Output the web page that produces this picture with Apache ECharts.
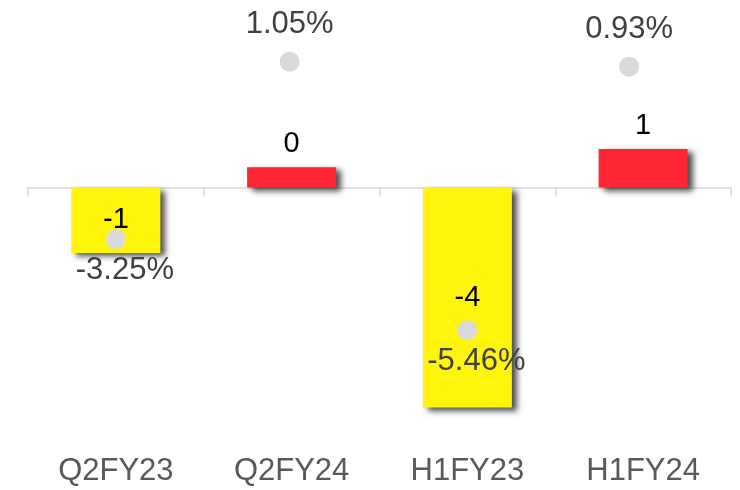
<!DOCTYPE html>
<html>
<head>
<meta charset="utf-8">
<script src="https://cdn.jsdelivr.net/npm/echarts@6/dist/echarts.min.js"></script>
<style>html,body{margin:0;padding:0;background:#fff;}#c{width:740px;height:490px;}</style>
</head>
<body>
<div id="c"></div>
<script>
var categories = ['Q2FY23', 'Q2FY24', 'H1FY23', 'H1FY24'];
var barValues = [-1.19, 0.37, -4.0, 0.70];
var pctValues = [-3.25, 1.05, -5.46, 0.93];
var barColors = ['#FFF50C', '#FF2532', '#FFF50C', '#FF2532'];

var FONT = 'Liberation Sans, Arial, sans-serif';
var dotShift = [0, -2, 0, -14];

var chart = echarts.init(document.getElementById('c'));
chart.setOption({
  animation: false,
  backgroundColor: '#ffffff',
  grid: { left: 28, right: 9, top: 22.5, bottom: 55, containLabel: false },
  xAxis: [
    {
      type: 'category', data: categories, position: 'bottom',
      axisLine: { show: false, onZero: false }, axisTick: { show: false },
      axisLabel: { color: '#595959', fontSize: 31, fontFamily: FONT, margin: 21 }
    },
    {
      type: 'category', data: categories, position: 'bottom',
      axisLine: { show: true, onZero: true, onZeroAxisIndex: 0, lineStyle: { color: '#d9d9d9', width: 1.5 } },
      axisTick: { show: true, length: 9, lineStyle: { color: '#d9d9d9', width: 1.5 } },
      axisLabel: { show: false }
    }
  ],
  yAxis: [
    { type: 'value', min: -4.5, max: 3, show: false, splitLine: { show: false } },
    { type: 'value', min: -8, max: 2, show: false, splitLine: { show: false } }
  ],
  series: [
    {
      type: 'bar', xAxisIndex: 0, yAxisIndex: 0, barWidth: 89, z: 2,
      data: barValues.map(function (v, i) {
        return {
          value: v,
          itemStyle: { color: barColors[i] },
          label: { position: v < 0 ? 'inside' : 'top', distance: 9 }
        };
      }),
      itemStyle: {
        shadowColor: 'rgba(0,0,0,0.7)', shadowBlur: 6, shadowOffsetX: 5, shadowOffsetY: 3
      },
      label: {
        show: true, color: '#000000', fontSize: 29, fontFamily: FONT,
        formatter: function (p) { return String(Math.round(p.value)); }
      }
    },
    {
      type: 'scatter', xAxisIndex: 0, yAxisIndex: 1, z: 3, symbolSize: 20,
      data: pctValues.map(function (v, i) {
        return {
          value: v,
          symbolOffset: [dotShift[i], 0],
          label: {
            position: v < 0 ? 'bottom' : 'top',
            distance: v < 0 ? 6 : 12,
            offset: [v < 0 ? 9 : 0, 0]
          }
        };
      }),
      itemStyle: { color: '#d9d9d9', opacity: 1 },
      label: {
        show: true, color: '#404040', fontSize: 31, fontFamily: FONT,
        formatter: function (p) { return p.value.toFixed(2) + '%'; }
      }
    }
  ]
});
</script>
</body>
</html>
